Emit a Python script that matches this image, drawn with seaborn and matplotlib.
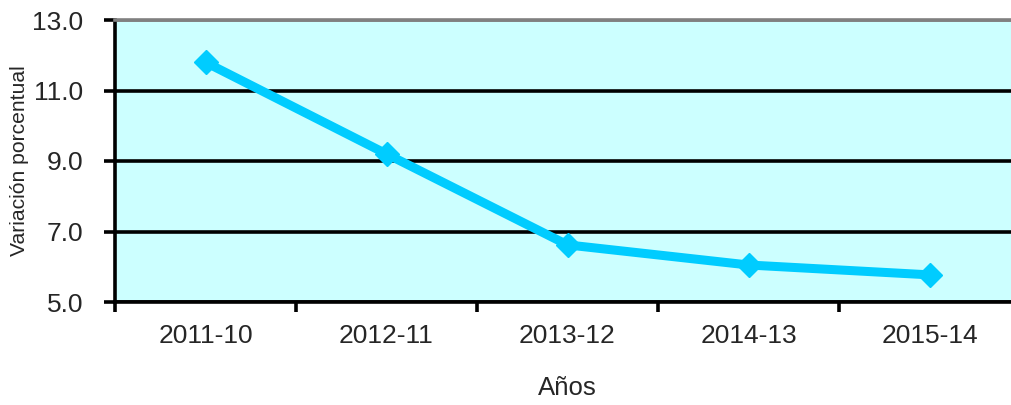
import matplotlib
matplotlib.use('Agg')
import matplotlib.pyplot as plt
import seaborn as sns
import pandas as pd
from matplotlib.ticker import FormatStrFormatter, FixedLocator

years = ['2011-10', '2012-11', '2013-12', '2014-13', '2015-14']
variation = [11.8, 9.2, 6.62, 6.05, 5.77]
y_ticks = [5.0, 7.0, 9.0, 11.0, 13.0]

df = pd.DataFrame({'anio': years, 'variacion': variation})

sns.set_style('white')
plt.rcParams['font.family'] = ['Liberation Sans', 'DejaVu Sans']

fig = plt.figure(figsize=(10.11, 4.05), dpi=100)
ax = fig.add_axes([115 / 1011, 103 / 405, 905 / 1011, 282 / 405])
ax.set_facecolor('#CCFFFF')

sns.lineplot(data=df, x='anio', y='variacion', ax=ax, color='#00CCFF',
             linewidth=6.5, marker='D', markersize=12.5, markeredgecolor='#00CCFF',
             markeredgewidth=1, sort=False)

ax.set_xlim(-0.5, len(years) - 0.5)
ax.set_ylim(y_ticks[0], y_ticks[-1])
ax.set_yticks(y_ticks)
ax.yaxis.set_major_formatter(FormatStrFormatter('%.1f'))

ax.yaxis.grid(True, color='black', linewidth=2.6)
ax.get_ygridlines()[-1].set_color('#808080')
ax.set_axisbelow(True)

ax.spines['right'].set_visible(False)
ax.spines['top'].set_color('#808080')
ax.spines['top'].set_linewidth(2.6)
ax.spines['left'].set_color('black')
ax.spines['left'].set_linewidth(2.6)
ax.spines['bottom'].set_color('black')
ax.spines['bottom'].set_linewidth(2.6)

ax.xaxis.set_minor_locator(FixedLocator([i - 0.5 for i in range(len(years) + 1)]))
ax.tick_params(axis='x', which='major', length=0, pad=16, labelsize=19)
ax.tick_params(axis='x', which='minor', length=7, width=2.6, color='black', direction='out', bottom=True)
ax.tick_params(axis='y', which='major', length=8, width=2.6, color='black', direction='out',
               left=True, pad=15, labelsize=19)

ax.set_xlabel('Años', fontsize=18.5, labelpad=20)
ax.set_ylabel('Variación porcentual', fontsize=15.2)
ax.yaxis.set_label_coords(-0.095, 0.5)

fig.savefig('out.png', dpi=100)
